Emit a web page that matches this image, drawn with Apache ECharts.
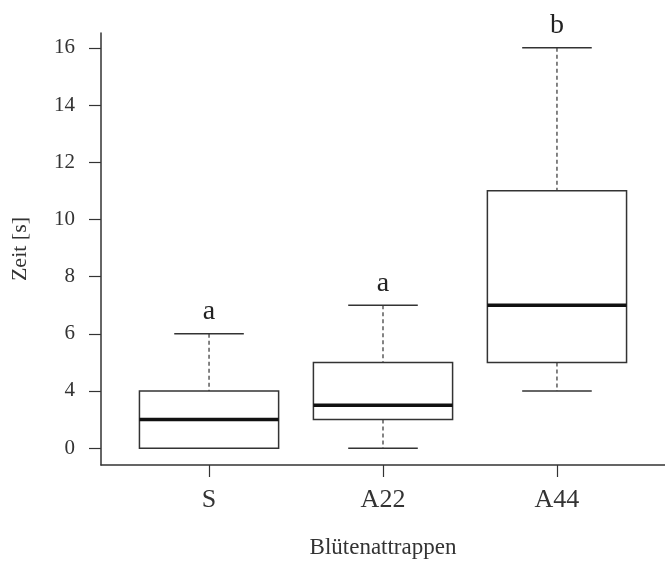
<!DOCTYPE html>
<html>
<head>
<meta charset="utf-8">
<script src="https://cdn.jsdelivr.net/npm/echarts@6/dist/echarts.min.js"></script>
<style>
  html, body { margin: 0; padding: 0; background: #fff; }
  #chart { width: 665px; height: 564px; }
</style>
</head>
<body>
<div id="chart"></div>
<script>
// Groups along the x axis
const categories = ['S', 'A22', 'A44'];
// Five-number summaries per group, on the plotted scale
const lowerWhisker = [2, 2, 4];
const lowerQuartile = [2, 3, 5];
const medians = [3, 3.5, 7];
const upperQuartile = [4, 5, 11];
const upperWhisker = [6, 7, 16];
// Significance letters printed above each box
const groupLetters = ['a', 'a', 'b'];
// Y tick positions and the text printed at them
const yTickValues = [2, 4, 6, 8, 10, 12, 14, 16];
const yTickLabels = ['0', '4', '6', '8', '10', '12', '14', '16'];

const seriesData = categories.map((c, i) => [
  i + 1, lowerWhisker[i], lowerQuartile[i], medians[i], upperQuartile[i], upperWhisker[i]
]);

const serif = '"Liberation Serif", "Times New Roman", serif';
const ink = '#333';

function renderBox(params, api) {
  const x = api.value(0);
  const lo = api.value(1), q1 = api.value(2), med = api.value(3), q3 = api.value(4), hi = api.value(5);
  const half = 0.4, capHalf = 0.2;
  const p = (xx, yy) => api.coord([xx, yy]);
  const children = [];
  const dash = { stroke: ink, lineWidth: 1.2, lineDash: [4, 3] };
  const solid = { stroke: ink, lineWidth: 1.5 };
  // whiskers
  let a = p(x, hi), b = p(x, q3);
  children.push({ type: 'line', shape: { x1: a[0], y1: a[1], x2: b[0], y2: b[1] }, style: dash });
  a = p(x, q1); b = p(x, lo);
  if (lo < q1) children.push({ type: 'line', shape: { x1: a[0], y1: a[1], x2: b[0], y2: b[1] }, style: dash });
  // caps
  [hi, lo].forEach(v => {
    const l = p(x - capHalf, v), r = p(x + capHalf, v);
    children.push({ type: 'line', shape: { x1: l[0], y1: l[1], x2: r[0], y2: r[1] }, style: solid });
  });
  // box
  const tl = p(x - half, q3), br = p(x + half, q1);
  children.push({ type: 'rect', shape: { x: tl[0], y: tl[1], width: br[0] - tl[0], height: br[1] - tl[1] },
    style: { fill: '#fff', stroke: ink, lineWidth: 1.5 } });
  // median
  const ml = p(x - half, med), mr = p(x + half, med);
  children.push({ type: 'line', shape: { x1: ml[0], y1: ml[1], x2: mr[0], y2: mr[1] },
    style: { stroke: '#111', lineWidth: 3.5 } });
  // letter
  const t = p(x, hi);
  children.push({ type: 'text', style: { x: t[0], y: t[1] - 8, text: groupLetters[params.dataIndex],
    font: '28px ' + serif, fill: '#222', align: 'center', verticalAlign: 'bottom' } });
  return { type: 'group', children };
}

const chart = echarts.init(document.getElementById('chart'), null, { renderer: 'canvas' });
chart.setOption({
  backgroundColor: '#fff',
  animation: false,
  grid: { left: 101, right: 0, top: 33, bottom: 95, containLabel: false },
  xAxis: {
    type: 'value',
    min: 0.379, max: 3.621,
    name: 'Blütenattrappen',
    nameLocation: 'middle',
    nameGap: 71,
    nameTextStyle: { fontFamily: serif, fontSize: 23, color: ink },
    axisLine: { show: true, onZero: false, lineStyle: { color: ink, width: 1.5 } },
    axisTick: { show: true, length: 12, customValues: [1, 2, 3], lineStyle: { color: ink, width: 1.2 } },
    axisLabel: {
      customValues: [1, 2, 3], margin: 22,
      fontFamily: serif, fontSize: 26, color: ink,
      formatter: v => categories[Math.round(v) - 1]
    },
    splitLine: { show: false }
  },
  yAxis: {
    type: 'value',
    min: 1.411, max: 16.52,
    name: 'Zeit [s]',
    nameLocation: 'middle',
    nameGap: 70,
    nameTextStyle: { fontFamily: serif, fontSize: 22, color: ink },
    axisLine: { show: true, lineStyle: { color: ink, width: 1.5 } },
    axisTick: { show: true, length: 12, customValues: yTickValues, lineStyle: { color: ink, width: 1.2 } },
    axisLabel: {
      customValues: yTickValues, margin: 26,
      fontFamily: serif, fontSize: 21, color: ink,
      formatter: v => yTickLabels[yTickValues.indexOf(v)]
    },
    splitLine: { show: false }
  },
  series: [{
    type: 'custom',
    clip: false,
    renderItem: renderBox,
    encode: { x: 0, y: [1, 2, 3, 4, 5] },
    data: seriesData
  }]
});
</script>
</body>
</html>
